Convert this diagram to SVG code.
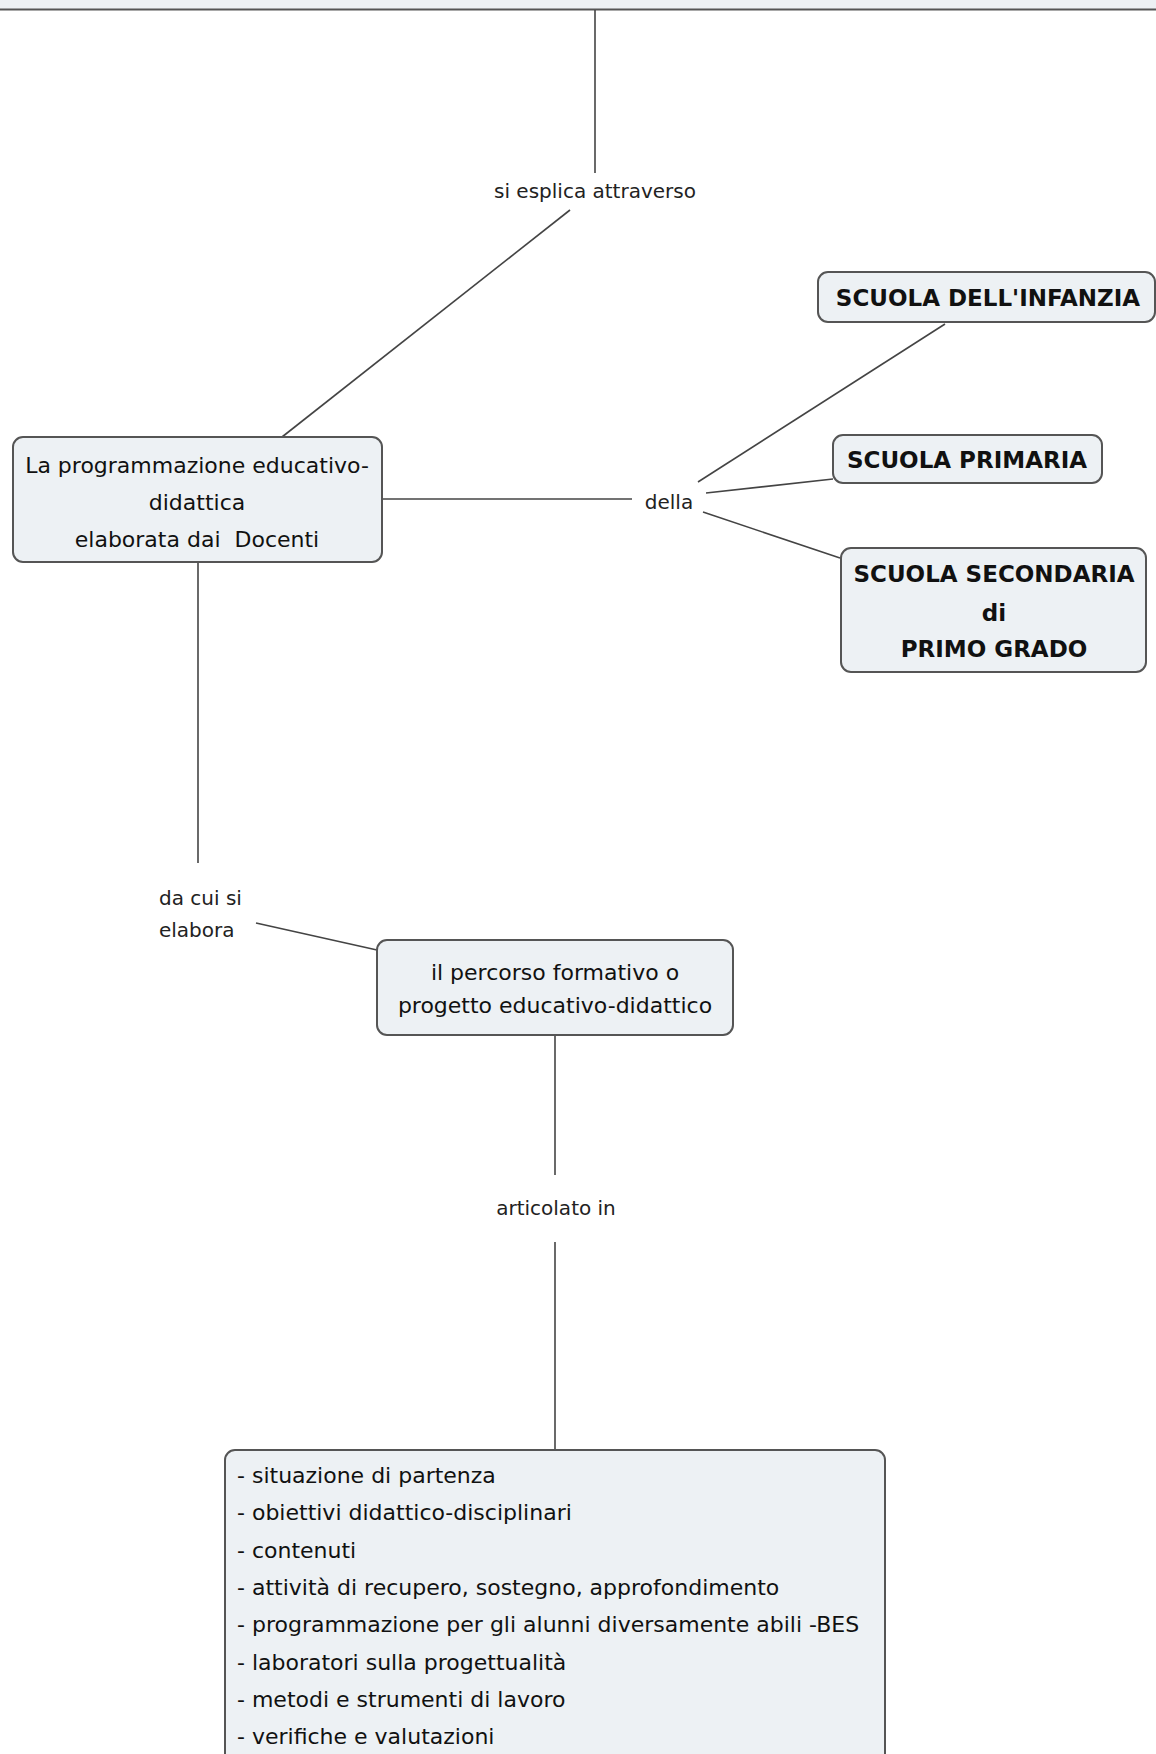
<svg xmlns="http://www.w3.org/2000/svg" width="1156" height="1754" viewBox="0 0 1156 1754">
<style>
.box{fill:#edf1f4;stroke:#555;stroke-width:2}
.t{font-family:"DejaVu Sans","Liberation Sans",sans-serif;font-size:22px;fill:#111}
.c{text-anchor:middle}
.b{font-family:"DejaVu Sans","Liberation Sans",sans-serif;font-size:23px;font-weight:bold;fill:#111;text-anchor:middle}
.lbl{font-family:"DejaVu Sans","Liberation Sans",sans-serif;font-size:20px;fill:#222}
.ln{stroke:#444;stroke-width:1.6;fill:none}
</style>
<rect x="0" y="0" width="1156" height="1754" fill="#ffffff"/>
<g id="top-node">
<rect class="box" x="-10" y="-30" width="1176" height="39.5" rx="8"/>
</g>
<g id="connectors">
<line class="ln" x1="595" y1="10" x2="595" y2="173"/>
<line class="ln" x1="570" y1="210" x2="282" y2="437"/>
<line class="ln" x1="382" y1="499" x2="632" y2="499"/>
<line class="ln" x1="698" y1="482" x2="945" y2="324"/>
<line class="ln" x1="706" y1="493" x2="833" y2="479"/>
<line class="ln" x1="703" y1="512" x2="840" y2="558"/>
<line class="ln" x1="198" y1="562" x2="198" y2="863"/>
<line class="ln" x1="256" y1="923" x2="377" y2="950"/>
<line class="ln" x1="555" y1="1035" x2="555" y2="1175"/>
<line class="ln" x1="555" y1="1242" x2="555" y2="1450"/>
</g>
<g id="label-si-esplica">
<text class="lbl c" x="595" y="198">si esplica attraverso</text>
</g>
<g id="label-della">
<text class="lbl c" x="669" y="509">della</text>
</g>
<g id="label-da-cui">
<text class="lbl" x="159" y="905">da cui si</text>
<text class="lbl" x="159" y="937">elabora</text>
</g>
<g id="label-articolato">
<text class="lbl c" x="556" y="1215">articolato in</text>
</g>
<g id="node-programmazione">
<rect class="box" x="13" y="437" width="369" height="125" rx="10"/>
<text class="t c" x="197" y="473">La programmazione educativo-</text>
<text class="t c" x="197" y="510">didattica</text>
<text class="t c" x="197" y="547">elaborata dai&#160; Docenti</text>
</g>
<g id="node-infanzia">
<rect class="box" x="818" y="272" width="337" height="50" rx="10"/>
<text class="b" x="988" y="306">SCUOLA DELL'INFANZIA</text>
</g>
<g id="node-primaria">
<rect class="box" x="833" y="435" width="269" height="48" rx="10"/>
<text class="b" x="967" y="468">SCUOLA PRIMARIA</text>
</g>
<g id="node-secondaria">
<rect class="box" x="841" y="548" width="305" height="124" rx="10"/>
<text class="b" x="994" y="582">SCUOLA SECONDARIA</text>
<text class="b" x="994" y="621">di</text>
<text class="b" x="994" y="657">PRIMO GRADO</text>
</g>
<g id="node-percorso">
<rect class="box" x="377" y="940" width="356" height="95" rx="10"/>
<text class="t c" x="555" y="980">il percorso formativo o</text>
<text class="t c" x="555" y="1013">progetto educativo-didattico</text>
</g>
<g id="node-articolazione">
<rect class="box" x="225" y="1450" width="660" height="330" rx="10"/>
<text class="t" x="237" y="1483">- situazione di partenza</text>
<text class="t" x="237" y="1520">- obiettivi didattico-disciplinari</text>
<text class="t" x="237" y="1558">- contenuti</text>
<text class="t" x="237" y="1595">- attività di recupero, sostegno, approfondimento</text>
<text class="t" x="237" y="1632">- programmazione per gli alunni diversamente abili -BES</text>
<text class="t" x="237" y="1670">- laboratori sulla progettualità</text>
<text class="t" x="237" y="1707">- metodi e strumenti di lavoro</text>
<text class="t" x="237" y="1744">- verifiche e valutazioni</text>
</g>
</svg>
